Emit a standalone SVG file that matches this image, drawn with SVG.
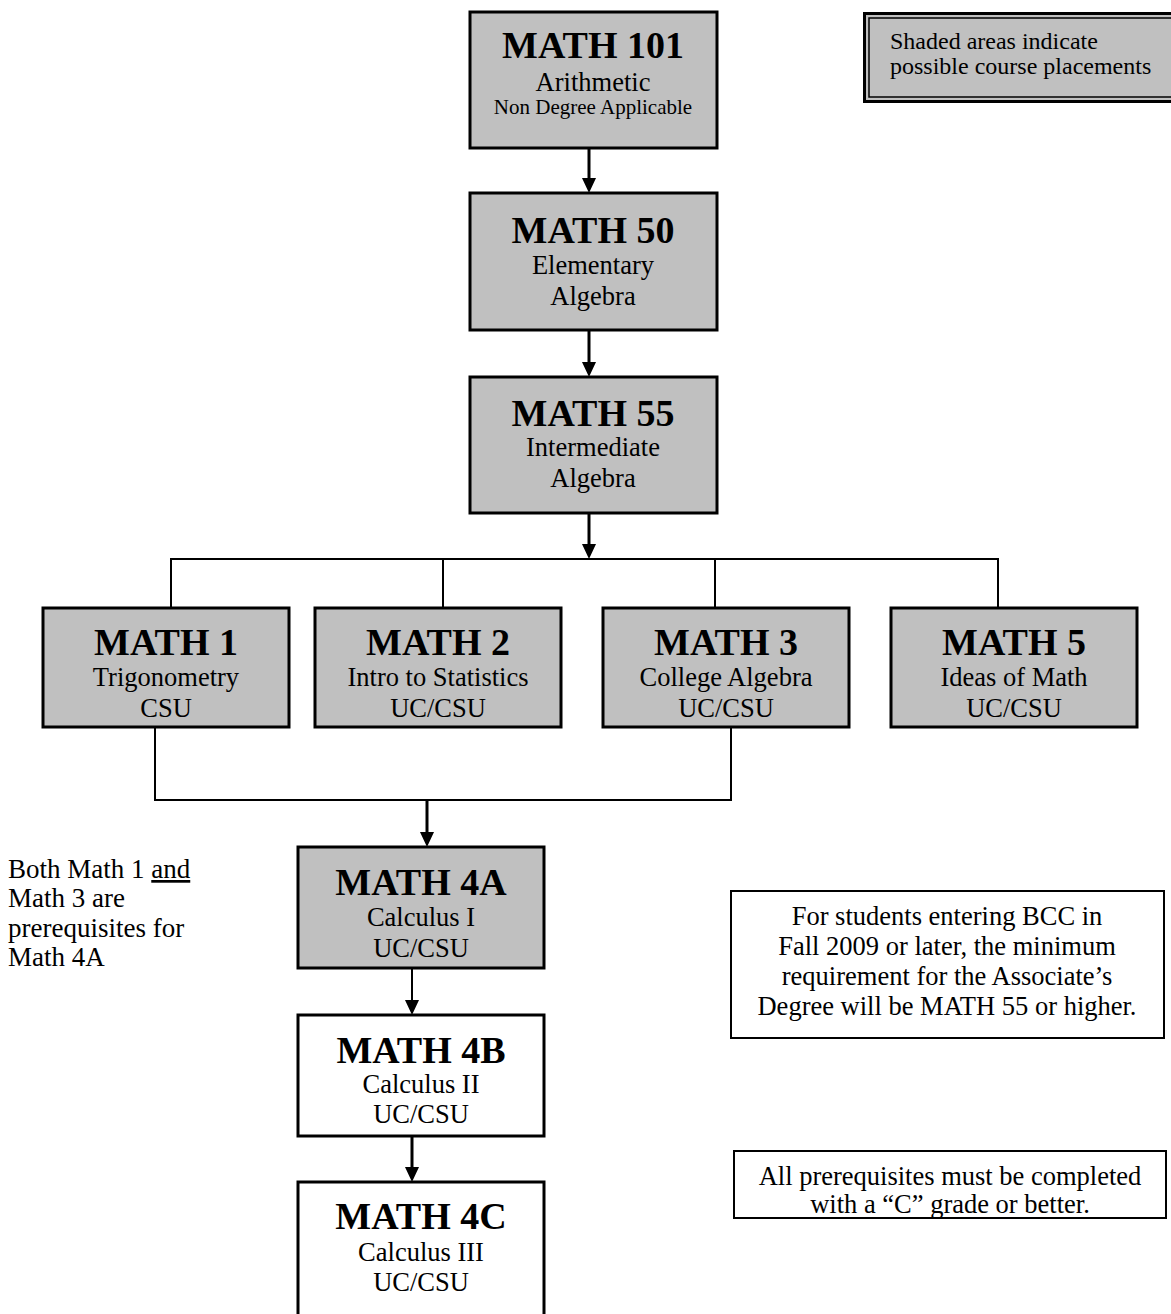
<svg xmlns="http://www.w3.org/2000/svg" width="1171" height="1314" viewBox="0 0 1171 1314">
<style>
text{font-family:"Liberation Serif","Times New Roman",serif;fill:#000}
.t{font-size:38px;font-weight:bold;text-anchor:middle}
.s{font-size:26.5px;text-anchor:middle}
.sm{font-size:21px;text-anchor:middle}
.n{font-size:26.5px;text-anchor:middle}
.l{font-size:27px}
.g{font-size:24px}
.box{fill:#c0c0c0;stroke:#000;stroke-width:3}
.wbox{fill:#fff;stroke:#000;stroke-width:3}
.note{fill:#fff;stroke:#000;stroke-width:2}
.c{fill:none;stroke:#000;stroke-width:2}
.a{fill:none;stroke:#000;stroke-width:3;marker-end:url(#ah)}
.a2{fill:none;stroke:#000;stroke-width:2;marker-end:url(#ah)}
</style>
<defs>
<marker id="ah" viewBox="0 0 15 14" markerWidth="15" markerHeight="14" refX="5" refY="7" orient="auto" markerUnits="userSpaceOnUse">
<path d="M0,0 L15,7 L0,14 z" fill="#000"/>
</marker>
</defs>
<rect width="1171" height="1314" fill="#fff"/>

<g id="connectors">
<line class="a" x1="589" y1="148" x2="589" y2="183"/>
<line class="a" x1="589" y1="330" x2="589" y2="367"/>
<line class="a" x1="589" y1="513" x2="589" y2="549"/>
<polyline class="c" points="171,608 171,559 998,559 998,608"/>
<line class="c" x1="443" y1="559" x2="443" y2="608"/>
<line class="c" x1="715" y1="559" x2="715" y2="608"/>
<polyline class="c" points="155,727 155,800 731,800 731,727"/>
<line class="a" x1="427" y1="800" x2="427" y2="837"/>
<line class="a2" x1="412" y1="968" x2="412" y2="1005"/>
<line class="a" x1="412" y1="1136" x2="412" y2="1172"/>
</g>

<g id="math101">
<rect class="box" x="470" y="12" width="247" height="136"/>
<text class="t" x="593" y="58">MATH 101</text>
<text class="s" x="593" y="91">Arithmetic</text>
<text class="sm" x="593" y="114">Non Degree Applicable</text>
</g>
<g id="math50">
<rect class="box" x="470" y="193" width="247" height="137"/>
<text class="t" x="593" y="243">MATH 50</text>
<text class="s" x="593" y="274">Elementary</text>
<text class="s" x="593" y="305">Algebra</text>
</g>
<g id="math55">
<rect class="box" x="470" y="377" width="247" height="136"/>
<text class="t" x="593" y="426">MATH 55</text>
<text class="s" x="593" y="456">Intermediate</text>
<text class="s" x="593" y="487">Algebra</text>
</g>

<g id="math1">
<rect class="box" x="43" y="608" width="246" height="119"/>
<text class="t" x="166" y="655">MATH 1</text>
<text class="s" x="166" y="686">Trigonometry</text>
<text class="s" x="166" y="717">CSU</text>
</g>
<g id="math2">
<rect class="box" x="315" y="608" width="246" height="119"/>
<text class="t" x="438" y="655">MATH 2</text>
<text class="s" x="438" y="686">Intro to Statistics</text>
<text class="s" x="438" y="717">UC/CSU</text>
</g>
<g id="math3">
<rect class="box" x="603" y="608" width="246" height="119"/>
<text class="t" x="726" y="655">MATH 3</text>
<text class="s" x="726" y="686">College Algebra</text>
<text class="s" x="726" y="717">UC/CSU</text>
</g>
<g id="math5">
<rect class="box" x="891" y="608" width="246" height="119"/>
<text class="t" x="1014" y="655">MATH 5</text>
<text class="s" x="1014" y="686">Ideas of Math</text>
<text class="s" x="1014" y="717">UC/CSU</text>
</g>

<g id="math4a">
<rect class="box" x="298" y="847" width="246" height="121"/>
<text class="t" x="421" y="895">MATH 4A</text>
<text class="s" x="421" y="926">Calculus I</text>
<text class="s" x="421" y="957">UC/CSU</text>
</g>
<g id="math4b">
<rect class="wbox" x="298" y="1015" width="246" height="121"/>
<text class="t" x="421" y="1063">MATH 4B</text>
<text class="s" x="421" y="1093">Calculus II</text>
<text class="s" x="421" y="1123">UC/CSU</text>
</g>
<g id="math4c">
<rect class="wbox" x="298" y="1182" width="246" height="150"/>
<text class="t" x="421" y="1229">MATH 4C</text>
<text class="s" x="421" y="1261">Calculus III</text>
<text class="s" x="421" y="1291">UC/CSU</text>
</g>

<g id="legend">
<rect x="864.5" y="13.5" width="320" height="88" fill="#c0c0c0" stroke="#000" stroke-width="3"/>
<rect x="869" y="18" width="310" height="79" fill="none" stroke="#000" stroke-width="1.5"/>
<text class="g" x="890" y="49">Shaded areas indicate</text>
<text class="g" x="890" y="74">possible course placements</text>
</g>

<g id="prereq-note">
<text class="l" x="8" y="878">Both Math 1 <tspan text-decoration="underline">and</tspan></text>
<text class="l" x="8" y="907">Math 3 are</text>
<text class="l" x="8" y="937">prerequisites for</text>
<text class="l" x="8" y="966">Math 4A</text>
</g>

<g id="degree-note">
<rect class="note" x="731" y="891" width="433" height="147"/>
<text class="n" x="947" y="925">For students entering BCC in</text>
<text class="n" x="947" y="955">Fall 2009 or later, the minimum</text>
<text class="n" x="947" y="985">requirement for the Associate’s</text>
<text class="n" x="947" y="1015">Degree will be MATH 55 or higher.</text>
</g>

<g id="grade-note">
<rect class="note" x="734" y="1151" width="432" height="67"/>
<text class="n" x="950" y="1185">All prerequisites must be completed</text>
<text class="n" x="950" y="1213">with a “C” grade or better.</text>
</g>
</svg>
